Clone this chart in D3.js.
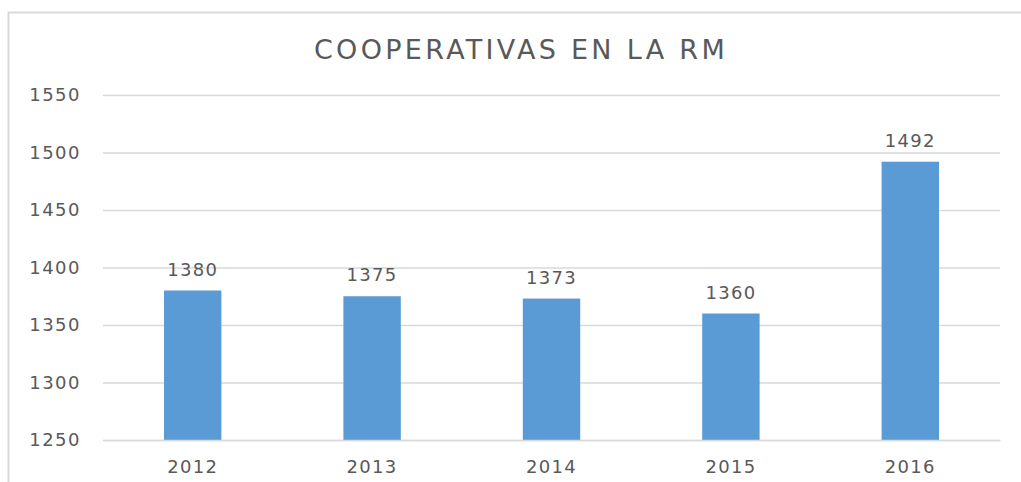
<!DOCTYPE html>
<html>
<head>
<meta charset="utf-8">
<script src="https://cdn.jsdelivr.net/npm/d3@7"></script>
<style>
  body { margin: 0; background: #fff; }
  text { font-family: "DejaVu Sans", sans-serif; fill: #595959; }
</style>
</head>
<body>
<div id="chart-wrapper"></div>
<script>
let width = 1021
let height = 482
let years = ["2012", "2013", "2014", "2015", "2016"]
let values = [1380, 1375, 1373, 1360, 1492]
let yTicks = [1250, 1300, 1350, 1400, 1450, 1500, 1550]
let title = "COOPERATIVAS EN LA RM"
let barColor = "#5b9bd5"
let gridColor = "#d9d9d9"

let margin = {top: 95, right: 21, bottom: 42, left: 103}

let svg = d3
  .select("#chart-wrapper")
  .append("svg")
  .attr("width", width)
  .attr("height", height)

// chart frame (runs off the right and bottom edges)
svg.append("rect")
  .attr("x", 8.5).attr("y", 12.5)
  .attr("width", 1040).attr("height", 500)
  .attr("fill", "none")
  .attr("stroke", gridColor)
  .attr("stroke-width", 2)

let graph = svg
  .append("g")
  .attr("transform", `translate(${margin.left},${margin.top})`)

let graphWidth = width - margin.left - margin.right
let graphHeight = height - margin.top - margin.bottom

let x = d3
  .scaleBand()
  .domain(years)
  .range([0, graphWidth])
  .paddingInner(0.68)
  .paddingOuter(0.34)

let y = d3
  .scaleLinear()
  .domain([1250, 1550])
  .range([graphHeight, 0])

// Y axis with gridlines
let yAxis = graph
  .append("g")
  .attr("class", "yAxis")
  .call(d3.axisLeft(y).tickValues(yTicks).tickSize(-graphWidth).tickPadding(22).tickFormat(d3.format("d")))
yAxis.select(".domain").remove()
yAxis.selectAll("line").attr("stroke", gridColor).attr("stroke-width", 1.5)
yAxis.selectAll("text")
  .attr("font-family", "DejaVu Sans")
  .attr("font-size", 18)
  .attr("letter-spacing", 1.5)
  .attr("fill", "#595959")

// Bars
graph
  .selectAll("rect.bar")
  .data(values)
  .enter()
  .append("rect")
  .attr("class", "bar")
  .attr("x", (d, i) => x(years[i]))
  .attr("y", d => y(d))
  .attr("width", x.bandwidth())
  .attr("height", d => graphHeight - y(d))
  .attr("fill", barColor)

// Data labels
graph
  .selectAll("text.label")
  .data(values)
  .enter()
  .append("text")
  .attr("class", "label")
  .attr("x", (d, i) => x(years[i]) + x.bandwidth() / 2)
  .attr("y", d => y(d) - 15)
  .attr("text-anchor", "middle")
  .attr("font-size", 18)
  .attr("letter-spacing", 1.3)
  .text(d => d)

// X Axis
let xAxis = graph
  .append("g")
  .attr("class", "xAxis")
  .attr("transform", `translate(0, ${graphHeight})`)
  .call(d3.axisBottom(x).tickSize(0).tickPadding(20))
xAxis.select(".domain").attr("stroke", gridColor).attr("stroke-width", 1.5)
xAxis.selectAll("text")
  .attr("font-family", "DejaVu Sans")
  .attr("font-size", 18)
  .attr("letter-spacing", 1.3)
  .attr("fill", "#595959")

// Title
svg.append("text")
  .attr("x", 521)
  .attr("y", 59)
  .attr("text-anchor", "middle")
  .attr("font-size", 27)
  .attr("letter-spacing", 3.3)
  .text(title)
</script>
</body>
</html>
